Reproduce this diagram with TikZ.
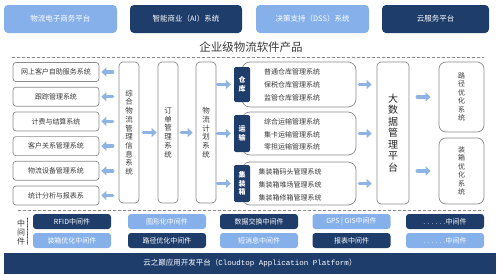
\documentclass[tikz,border=0pt]{standalone}
\usepackage{fontspec}
\setmainfont{Noto Sans CJK SC}
\setmonofont{Liberation Mono}
\usetikzlibrary{arrows.meta}
\definecolor{navy}{HTML}{1F3D6B}
\definecolor{sky}{HTML}{86B0EA}
\definecolor{arrowblue}{HTML}{8DB4E2}
\definecolor{edgegray}{HTML}{8A8A8A}
\definecolor{ink}{HTML}{3A3A3A}
\tikzset{
  topbox/.style={rounded corners=4pt,minimum height=28pt,text=white,font=\fontsize{7.5}{9}\selectfont},
  sysbox/.style={draw=edgegray,line width=.7pt,fill=white,rounded corners=3pt,text=ink,font=\fontsize{7}{8}\selectfont},
  colbox/.style={sysbox,rounded corners=4pt,minimum width=20pt,minimum height=141pt,align=center,font=\fontsize{7.5}{8.7}\selectfont},
  tagbox/.style={fill=navy,rounded corners=2pt,text=white,minimum width=16pt,inner sep=1pt,align=center,font=\fontsize{7}{8.5}\selectfont\bfseries},
  grpbox/.style={draw=edgegray,line width=.7pt,fill=white,rounded corners=8pt,minimum width=114pt},
  grptxt/.style={align=center,text=ink,font=\fontsize{7}{12.8}\selectfont},
  midbox/.style={rounded corners=3pt,minimum width=78pt,minimum height=15pt,inner sep=0pt,text=white,font=\fontsize{7}{8}\selectfont},
  blk/.style={draw=arrowblue,line width=3.5pt,-{Triangle[length=5pt,width=9pt]}}
}
\begin{document}
\begin{tikzpicture}[x=1pt,y=-1pt,line cap=round,line join=round]
  \useasboundingbox (0,0) rectangle (499,274);
  \node[topbox,fill=sky,minimum width=113pt] (ecom) at (60.5,19) {物流电子商务平台};
  \node[topbox,fill=navy,minimum width=112pt] (ai) at (186,19) {智能商业（AI）系统};
  \node[topbox,fill=sky,minimum width=113pt] (dss) at (312.5,19) {决策支持（DSS）系统};
  \node[topbox,fill=navy,minimum width=107pt] (cloud) at (435.5,19) {云服务平台};
  \node[text=ink,font=\fontsize{11.5}{13}\selectfont] (title) at (251,47) {企业级物流软件产品};
  \draw[densely dashed,edgegray,line width=.5pt] (12,57) -- (484,57);

  \node[sysbox,minimum width=86pt,minimum height=19pt] (web) at (56,72) {网上客户自助服务系统};
  \node[sysbox,minimum width=86pt,minimum height=19pt] (track) at (56,96.7) {跟踪管理系统};
  \node[sysbox,minimum width=86pt,minimum height=19pt] (bill) at (56,121.4) {计费与结算系统};
  \node[sysbox,minimum width=86pt,minimum height=19pt] (crm) at (56,146.1) {客户关系管理系统};
  \node[sysbox,minimum width=86pt,minimum height=19pt] (equip) at (56,170.8) {物流设备管理系统};
  \node[sysbox,minimum width=86pt,minimum height=19pt] (stat) at (56,195.5) {统计分析与报表系};

  \node[colbox] (info) at (129,132.5) {综\\合\\物\\流\\管\\理\\信\\息\\系\\统};
  \node[colbox] (order) at (168,132.5) {订\\单\\管\\理\\系\\统};
  \node[colbox] (plan) at (206,132.5) {物\\流\\计\\划\\系\\统};
  \foreach \n in {web,track,bill,crm,equip,stat}
    \draw[blk,shorten <=6pt,shorten >=2pt] (info.west |- \n) -- (\n.east);
  \draw[blk,shorten <=4pt,shorten >=1pt] (info) -- (order);
  \draw[blk,shorten <=3pt,shorten >=3pt] (order) -- (plan);

  \node[grpbox,minimum height=45pt] (wh) at (299,84.5) {};
  \node[grpbox,minimum height=43pt] (tr) at (299,133.5) {};
  \node[grpbox,minimum height=43pt] (ct) at (299,183.5) {};
  \node[tagbox,minimum height=35pt] (whtag) at (242,84.5) {仓\\库};
  \node[tagbox,minimum height=37pt] (trtag) at (242,133.5) {运\\输};
  \node[tagbox,minimum height=37pt] (cttag) at (242,183.5) {集\\装\\箱};
  \node[grptxt] (whtxt) at (292,85) {普通仓库管理系统\\保税仓库管理系统\\监管仓库管理系统};
  \node[grptxt] (trtxt) at (292,134.5) {综合运输管理系统\\集卡运输管理系统\\零担运输管理系统};
  \node[grptxt] (cttxt) at (290,185) {集装箱码头管理系统\\集装箱堆场管理系统\\集装箱修箱管理系统};
  \foreach \n in {whtag,trtag,cttag}
    \draw[blk,shorten <=1pt,shorten >=3pt] (plan.east |- \n) -- (\n.west);

  \node[colbox,minimum width=32pt,minimum height=142pt,text=black!85,font=\fontsize{10}{11.5}\selectfont] (big) at (393,133) {大\\数\\据\\管\\理\\平\\台};
  \foreach \n in {wh,tr,ct}
    \draw[blk,shorten <=3pt,shorten >=5pt] (\n.east) -- (big.west |- \n);
  \node[colbox,rounded corners=7pt,minimum width=45pt,minimum height=70pt,font=\fontsize{7}{8.5}\selectfont] (route) at (461.5,97) {路\\径\\优\\化\\系\\统};
  \node[colbox,rounded corners=7pt,minimum width=45pt,minimum height=66pt,font=\fontsize{7}{8.5}\selectfont] (pack) at (461.5,171) {装\\箱\\优\\化\\系\\统};
  \draw[blk,shorten <=8pt,shorten >=8pt] (big.east |- route) -- (route.west);
  \draw[blk,shorten <=8pt,shorten >=8pt] (big.east |- pack) -- (pack.west);

  \draw[densely dashed,edgegray,line width=.5pt] (18,210) -- (484,210);
  \node[text=ink,align=center,font=\fontsize{8}{9}\selectfont] (mw) at (21,232) {中\\间\\件};
  \draw[densely dotted,ink,line width=.6pt] (27,218) -- (27,245);
  \node[midbox,fill=navy] (rfid) at (72,221.5) {RFID中间件};
  \node[midbox,fill=sky] (gfx) at (167,221.5) {图形化中间件};
  \node[midbox,fill=navy] (xchg) at (259,221.5) {数据交换中间件};
  \node[midbox,fill=sky] (gps) at (351.5,221.5) {GPS | GIS中间件};
  \node[midbox,fill=navy] (moreA) at (445,221.5) {. . . . . .中间件};
  \node[midbox,fill=sky] (packmw) at (72,240.5) {装箱优化中间件};
  \node[midbox,fill=navy] (routemw) at (167,240.5) {路径优化中间件};
  \node[midbox,fill=sky] (sms) at (259,240.5) {短消息中间件};
  \node[midbox,fill=navy] (report) at (351.5,240.5) {报表中间件};
  \node[midbox,fill=sky] (moreB) at (445,240.5) {. . . . . .中间件};
  \node[fill=navy,minimum width=492pt,minimum height=21pt,inner sep=0pt,text=white,font=\fontsize{7.5}{9}\selectfont] (paas) at (250,263.5) {云之巅应用开发平台（\texttt{Cloudtop Application Platform}）};
\end{tikzpicture}
\end{document}
